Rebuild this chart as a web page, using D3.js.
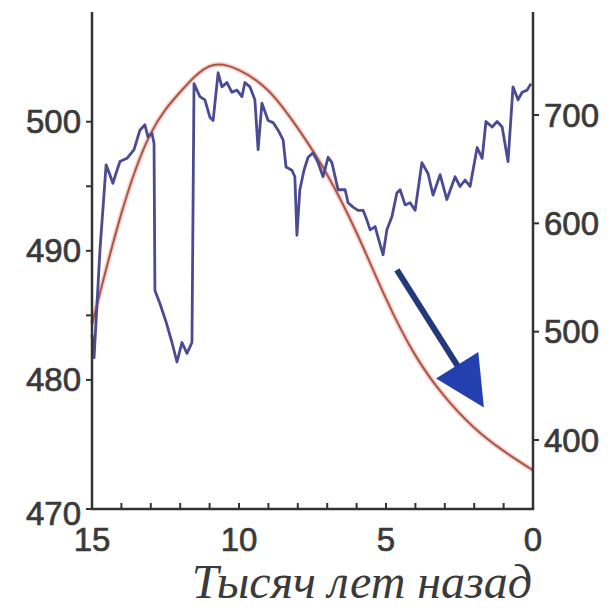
<!DOCTYPE html>
<html>
<head>
<meta charset="utf-8">
<script src="https://cdn.jsdelivr.net/npm/d3@7"></script>
<style>
  html, body { margin: 0; padding: 0; background: #ffffff; }
  svg { display: block; }
</style>
</head>
<body>
<svg id="chart" width="616" height="613"></svg>
<script>
// Summer insolation (left axis, W/m²) sampled every thousand years
const insolationAge = [15, 14, 13, 12, 11, 10, 9, 8, 7, 6, 5, 4, 3, 2, 1, 0];
const insolationWm2 = [484.3, 492.9, 499.1, 502.3, 504.3, 504.0, 502.4, 499.5, 495.9, 491.4, 486.3, 481.9, 478.7, 476.3, 474.5, 473.0];

// Methane record (right axis, ppb)
const methaneAge = [
  15.00, 14.93, 14.73, 14.52, 14.42, 14.29, 14.15, 14.05, 13.81, 13.57, 13.37, 13.20, 13.10, 12.96, 12.89,
  12.86, 12.69, 12.48, 12.28, 12.11, 11.94, 11.77, 11.60,
  11.53, 11.33, 11.16, 10.99, 10.88, 10.71, 10.58, 10.41, 10.24, 10.07, 9.90, 9.80, 9.63, 9.46, 9.35, 9.22,
  9.01, 8.84, 8.67, 8.50, 8.40, 8.20, 8.10, 8.03, 7.93, 7.79, 7.65, 7.48, 7.31, 7.14, 6.97, 6.84, 6.63,
  6.39, 6.29, 6.12, 5.95, 5.78, 5.65, 5.54, 5.37, 5.27, 5.10, 4.97, 4.80, 4.63, 4.52, 4.35, 4.18, 4.01,
  3.78, 3.57, 3.40, 3.16, 2.93, 2.65, 2.48, 2.31, 2.14, 1.90, 1.73, 1.60, 1.39, 1.22, 1.05, 0.85,
  0.68, 0.51, 0.37, 0.20, 0.07
];
const methanePpb = [
  497, 476, 575, 654, 647, 637, 649, 657, 660, 668, 686, 691, 680, 683, 674,
  538, 526, 509, 490, 472, 490, 480, 490,
  729, 717, 714, 698, 695, 739, 726, 730, 721, 723, 717, 730, 726, 714, 668, 711,
  695, 693, 686, 677, 652, 649, 643, 589, 631, 649, 661, 665, 656, 643, 661, 656, 631,
  631, 619, 615, 612, 612, 603, 594, 597, 587, 571, 594, 606, 628, 631, 617, 619, 612,
  656, 646, 626, 645, 622, 643, 634, 640, 634, 670, 660, 694, 689, 694, 689, 657,
  726, 714, 721, 723, 729
];

// Axis ticks and labels
const xMajorTicks = [15, 10, 5, 0];
const xMinorTicks = d3.range(0, 16);
const leftMajorTicks = [470, 480, 490, 500];
const leftMinorTicks = [485, 495];
const rightTicks = [400, 500, 600, 700];
const xAxisTitle = "Тысяч лет назад";

// Trend arrow (age in kyr, methane ppb)
const arrowStart = [4.63, 557];
const arrowEnd = [1.67, 430];

const svg = d3.select("#chart");

const plotLeft = 92, plotRight = 533, plotTop = 12, plotBottom = 509;

const x = d3.scaleLinear().domain([15, 0]).range([plotLeft, plotRight]);
const yL = d3.scaleLinear().domain([470, 508.5]).range([plotBottom, plotTop]);
const yR = d3.scaleLinear().domain([336.3, 795.1]).range([plotBottom, plotTop]);

const axisColor = "#333333";
const textColor = "#3a3a3a";
const tickFont = "'Liberation Sans', Arial, sans-serif";

// Insolation curve with a soft halo under a thin core line
const insolationLine = d3.line()
  .x((d, i) => x(insolationAge[i]))
  .y(d => yL(d))
  .curve(d3.curveNatural);

svg.append("path")
  .attr("d", insolationLine(insolationWm2))
  .attr("fill", "none")
  .attr("stroke", "#f3bcb4")
  .attr("stroke-width", 5)
  .attr("opacity", 0.7);
svg.append("path")
  .attr("d", insolationLine(insolationWm2))
  .attr("fill", "none")
  .attr("stroke", "#a9564a")
  .attr("stroke-width", 2);

// Methane record
const methaneLine = d3.line()
  .x((d, i) => x(methaneAge[i]))
  .y(d => yR(d))
  .curve(d3.curveLinear);

svg.append("path")
  .attr("d", methaneLine(methanePpb))
  .attr("fill", "none")
  .attr("stroke", "#4a4b92")
  .attr("stroke-width", 2.8)
  .attr("stroke-linejoin", "round");

// Trend arrow
const ax0 = x(arrowStart[0]), ay0 = yR(arrowStart[1]);
const ax1 = x(arrowEnd[0]), ay1 = yR(arrowEnd[1]);
const len = Math.hypot(ax1 - ax0, ay1 - ay0);
const ux = (ax1 - ax0) / len, uy = (ay1 - ay0) / len;
const headLen = 50, headHalf = 25;
const bx = ax1 - ux * headLen, by = ay1 - uy * headLen;

svg.append("line")
  .attr("x1", ax0).attr("y1", ay0)
  .attr("x2", bx + ux * 4).attr("y2", by + uy * 4)
  .attr("stroke", "#24397c")
  .attr("stroke-width", 6);

svg.append("path")
  .attr("d", d3.line()([
    [ax1, ay1],
    [bx - uy * headHalf, by + ux * headHalf],
    [bx + uy * headHalf, by - ux * headHalf]
  ]) + "Z")
  .attr("fill", "#2340ae");

// Axes frame: left, right, bottom
const axes = svg.append("g");
axes.append("line").attr("x1", plotLeft).attr("x2", plotLeft).attr("y1", plotTop).attr("y2", plotBottom)
  .attr("stroke", axisColor).attr("stroke-width", 2.5);
axes.append("line").attr("x1", plotRight).attr("x2", plotRight).attr("y1", plotTop).attr("y2", plotBottom)
  .attr("stroke", axisColor).attr("stroke-width", 2.5);
axes.append("line").attr("x1", plotLeft - 1.25).attr("x2", plotRight + 1.25).attr("y1", plotBottom).attr("y2", plotBottom)
  .attr("stroke", axisColor).attr("stroke-width", 2.5);

// Bottom ticks point inward
axes.selectAll(".xt").data(xMinorTicks).enter().append("line")
  .attr("x1", d => x(d)).attr("x2", d => x(d))
  .attr("y1", plotBottom).attr("y2", plotBottom - 6)
  .attr("stroke", axisColor).attr("stroke-width", 2);

function tickText(sel) {
  sel.attr("font-family", tickFont).attr("font-size", 33)
    .attr("fill", textColor)
    .attr("stroke", textColor).attr("stroke-width", 0.7);
}

axes.selectAll(".xl").data(xMajorTicks).enter().append("text")
  .attr("x", d => x(d)).attr("y", plotBottom + 30)
  .attr("dy", "0.35em")
  .attr("text-anchor", "middle")
  .call(tickText)
  .text(d => d);

// Left ticks point outward
axes.selectAll(".lt").data(leftMajorTicks.concat(leftMinorTicks)).enter().append("line")
  .attr("x1", plotLeft).attr("x2", plotLeft - 6)
  .attr("y1", d => yL(d)).attr("y2", d => yL(d))
  .attr("stroke", axisColor).attr("stroke-width", 2);

axes.selectAll(".ll").data(leftMajorTicks).enter().append("text")
  .attr("x", plotLeft - 11).attr("y", d => yL(d) + (d === 470 ? 4 : 0))
  .attr("dy", "0.35em")
  .attr("text-anchor", "end")
  .call(tickText)
  .text(d => d);

// Right ticks point outward
axes.selectAll(".rt").data(rightTicks).enter().append("line")
  .attr("x1", plotRight).attr("x2", plotRight + 6)
  .attr("y1", d => yR(d)).attr("y2", d => yR(d))
  .attr("stroke", axisColor).attr("stroke-width", 2);

axes.selectAll(".rl").data(rightTicks).enter().append("text")
  .attr("x", plotRight + 11).attr("y", d => yR(d))
  .attr("dy", "0.35em")
  .attr("text-anchor", "start")
  .call(tickText)
  .text(d => d);

// Axis title
svg.append("text")
  .attr("x", 362).attr("y", 598)
  .attr("text-anchor", "middle")
  .attr("font-family", "'Liberation Serif', 'Times New Roman', serif")
  .attr("font-style", "italic")
  .attr("font-size", 48)
  .attr("fill", "#3a3a3a")
  .text(xAxisTitle);
</script>
</body>
</html>
